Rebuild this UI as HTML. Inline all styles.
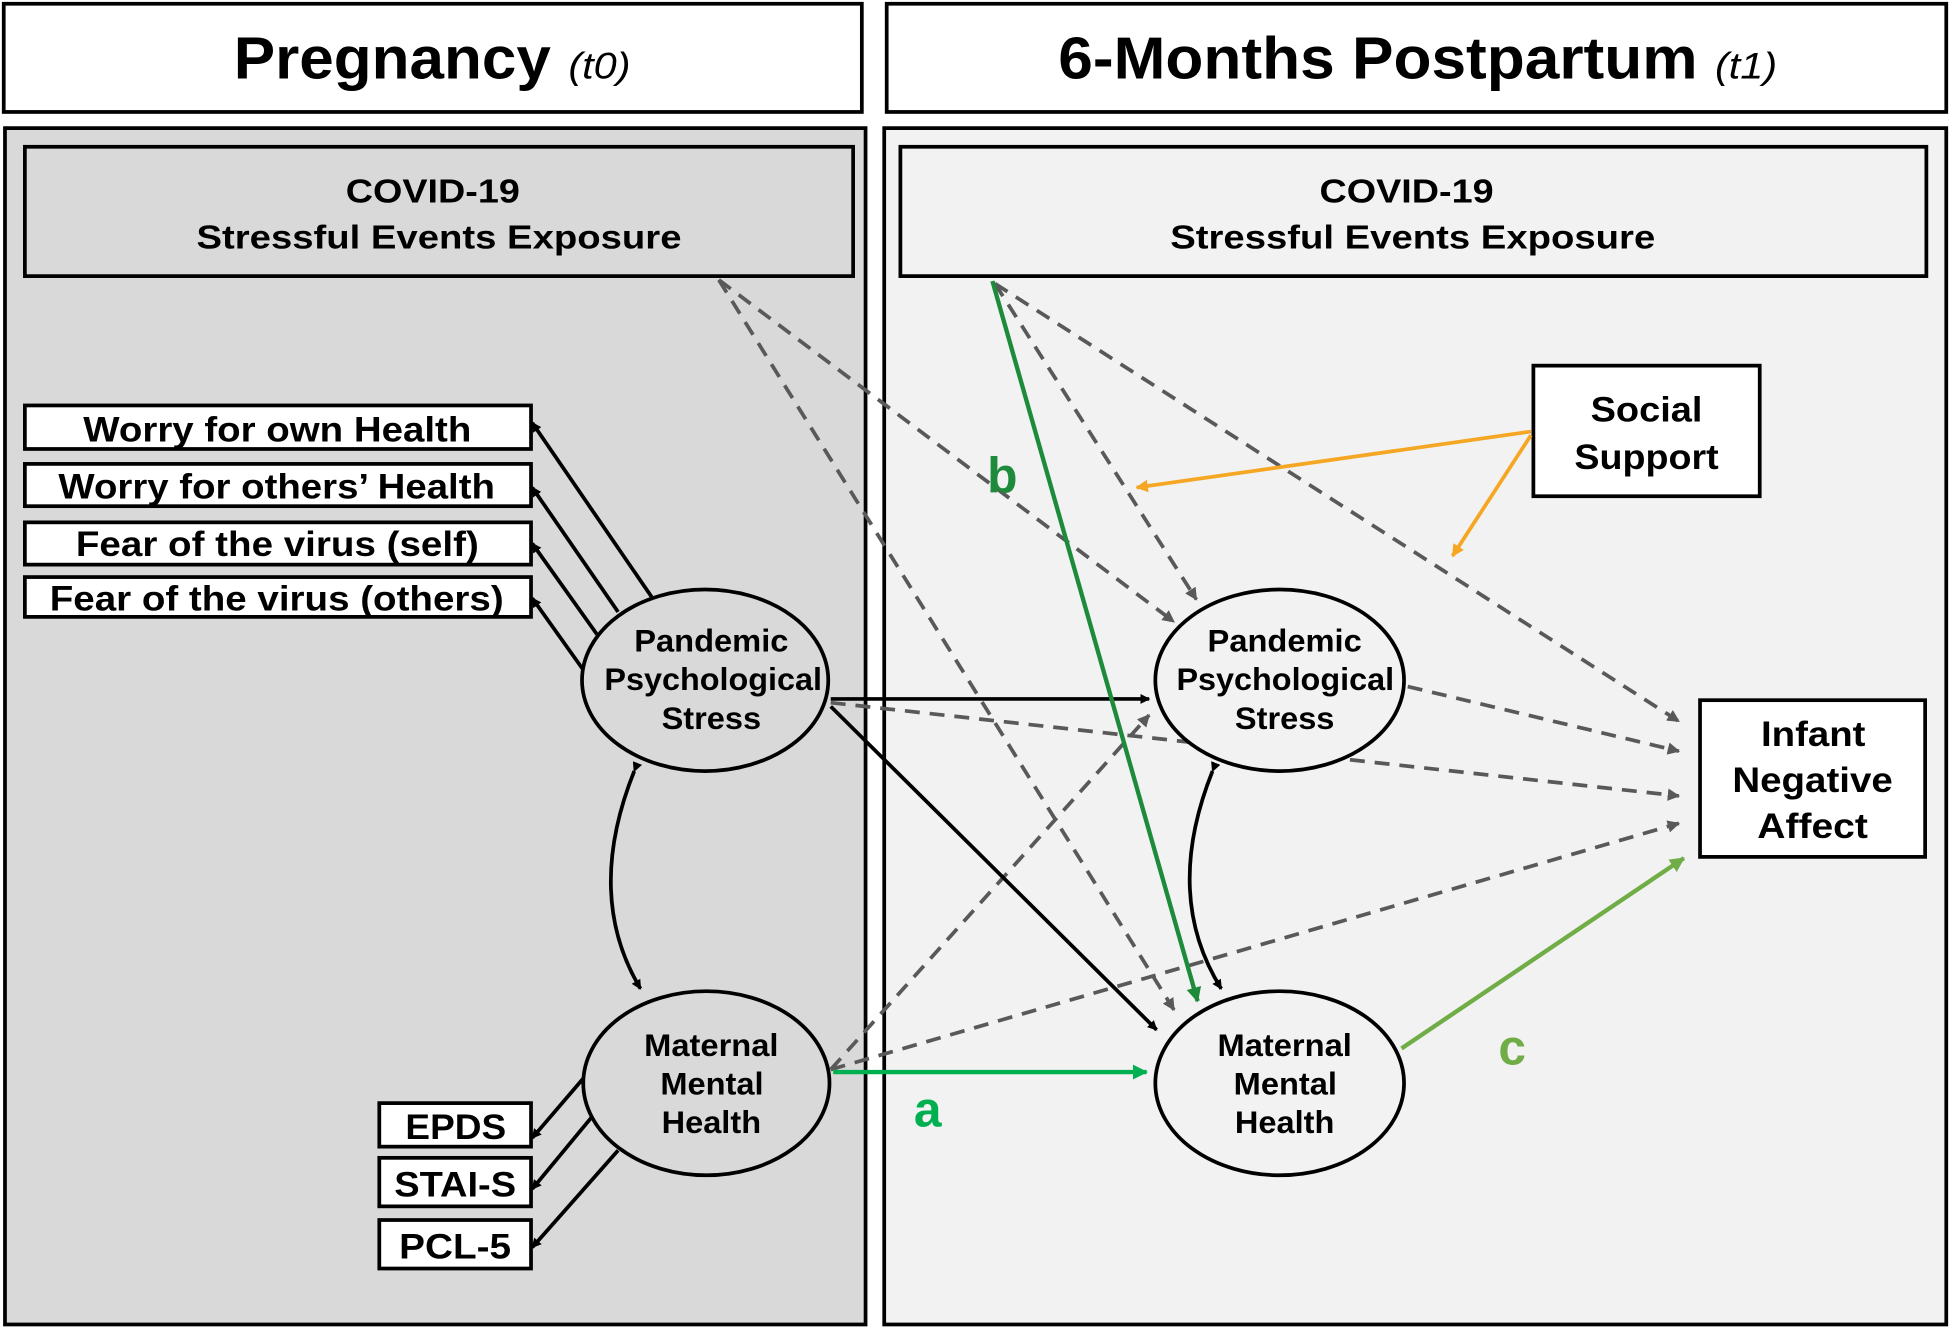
<!DOCTYPE html>
<html><head><meta charset="utf-8"><style>
html,body{margin:0;padding:0;background:#fff;}
svg{display:block;}
text{font-family:"Liberation Sans",Arial,sans-serif;font-weight:bold;fill:#000;}
text.it{font-weight:normal;font-style:italic;}
</style></head><body>
<svg width="1950" height="1327" viewBox="0 0 1568 1067" xmlns="http://www.w3.org/2000/svg">
<defs>
<marker id="ak" markerWidth="8" markerHeight="8" refX="7" refY="4" orient="auto" markerUnits="userSpaceOnUse"><path d="M0,0 L8,4 L0,8 z" fill="#000"/></marker>
<marker id="ag" markerWidth="10" markerHeight="10" refX="9" refY="5" orient="auto" markerUnits="userSpaceOnUse"><path d="M0,0 L10,5 L0,10 z" fill="#595959"/></marker>
<marker id="adg" markerWidth="12" markerHeight="12" refX="11" refY="6" orient="auto" markerUnits="userSpaceOnUse"><path d="M0,0 L12,6 L0,12 z" fill="#1e8a3c"/></marker>
<marker id="alg" markerWidth="12" markerHeight="12" refX="11" refY="6" orient="auto" markerUnits="userSpaceOnUse"><path d="M0,0 L12,6 L0,12 z" fill="#00b050"/></marker>
<marker id="aog" markerWidth="12" markerHeight="12" refX="11" refY="6" orient="auto" markerUnits="userSpaceOnUse"><path d="M0,0 L12,6 L0,12 z" fill="#70ad47"/></marker>
<marker id="ao" markerWidth="10" markerHeight="10" refX="9" refY="5" orient="auto" markerUnits="userSpaceOnUse"><path d="M0,0 L10,5 L0,10 z" fill="#f5a623"/></marker>
</defs>
<rect width="1568" height="1067" fill="#fff"/>
<rect x="3" y="3" width="690" height="87" fill="#fff" stroke="#000" stroke-width="3"/>
<rect x="713" y="3" width="852" height="87" fill="#fff" stroke="#000" stroke-width="3"/>
<text x="188" y="63" font-size="48" textLength="255" lengthAdjust="spacingAndGlyphs">Pregnancy</text>
<text x="457" y="63" font-size="30" class="it" textLength="50" lengthAdjust="spacingAndGlyphs">(t0)</text>
<text x="851" y="63" font-size="48" textLength="514" lengthAdjust="spacingAndGlyphs">6-Months Postpartum</text>
<text x="1379" y="63" font-size="30" class="it" textLength="50" lengthAdjust="spacingAndGlyphs">(t1)</text>
<rect x="4" y="103" width="692" height="962" fill="#d9d9d9" stroke="#000" stroke-width="3"/>
<rect x="711" y="103" width="854" height="962" fill="#f2f2f2" stroke="#000" stroke-width="3"/>
<rect x="20" y="118" width="666" height="104" fill="#d9d9d9" stroke="#000" stroke-width="3"/>
<rect x="724" y="118" width="825" height="104" fill="#f2f2f2" stroke="#000" stroke-width="3"/>
<text x="278" y="163" font-size="27" textLength="140" lengthAdjust="spacingAndGlyphs">COVID-19</text>
<text x="158" y="200" font-size="27" textLength="390" lengthAdjust="spacingAndGlyphs">Stressful Events Exposure</text>
<text x="1061" y="163" font-size="27" textLength="140" lengthAdjust="spacingAndGlyphs">COVID-19</text>
<text x="941" y="200" font-size="27" textLength="390" lengthAdjust="spacingAndGlyphs">Stressful Events Exposure</text>
<g stroke="#000" stroke-width="3" fill="#fff">
<rect x="20" y="326" width="407" height="35"/>
<rect x="20" y="373" width="407" height="34"/>
<rect x="20" y="420" width="407" height="34"/>
<rect x="20" y="464" width="407" height="32"/>
<rect x="305" y="887" width="122" height="35"/>
<rect x="305" y="931" width="122" height="39"/>
<rect x="305" y="981" width="122" height="39"/>
<rect x="1233" y="294" width="182" height="105"/>
<rect x="1367" y="563" width="181" height="126"/>
</g>
<g font-size="28" lengthAdjust="spacingAndGlyphs">
<text x="67" y="355" textLength="312" lengthAdjust="spacingAndGlyphs">Worry for own Health</text>
<text x="47" y="401" textLength="351" lengthAdjust="spacingAndGlyphs">Worry for others’ Health</text>
<text x="61" y="447" textLength="324" lengthAdjust="spacingAndGlyphs">Fear of the virus (self)</text>
<text x="40" y="491" textLength="365" lengthAdjust="spacingAndGlyphs">Fear of the virus (others)</text>
<text x="326" y="916" textLength="81" lengthAdjust="spacingAndGlyphs">EPDS</text>
<text x="317" y="962" textLength="98" lengthAdjust="spacingAndGlyphs">STAI-S</text>
<text x="321" y="1012" textLength="90" lengthAdjust="spacingAndGlyphs">PCL-5</text>
<text x="1279" y="339" textLength="90" lengthAdjust="spacingAndGlyphs">Social</text>
<text x="1266" y="377" textLength="116" lengthAdjust="spacingAndGlyphs">Support</text>
<text x="1416" y="600" textLength="84" lengthAdjust="spacingAndGlyphs">Infant</text>
<text x="1393" y="637" textLength="129" lengthAdjust="spacingAndGlyphs">Negative</text>
<text x="1413" y="674" textLength="89" lengthAdjust="spacingAndGlyphs">Affect</text>
</g>
<g stroke="#595959" stroke-width="3" stroke-dasharray="12,8" fill="none" marker-end="url(#ag)">
<line x1="578" y1="225" x2="944" y2="500"/>
<line x1="578" y1="225" x2="944" y2="812"/>
<line x1="800" y1="228" x2="962" y2="482"/>
<line x1="800" y1="228" x2="1350" y2="580"/>
<line x1="668" y1="565" x2="1350" y2="640"/>
<line x1="668" y1="860" x2="924" y2="575"/>
<line x1="668" y1="860" x2="1350" y2="662"/>
<line x1="1132" y1="552" x2="1350" y2="604"/>
</g>
<g stroke="#000" stroke-width="3" fill="none">
<line x1="524" y1="480" x2="428" y2="340" marker-end="url(#ak)"/>
<line x1="497" y1="492" x2="428" y2="392" marker-end="url(#ak)"/>
<line x1="480" y1="510" x2="428" y2="437" marker-end="url(#ak)"/>
<line x1="470" y1="540" x2="428" y2="481" marker-end="url(#ak)"/>
<line x1="470" y1="866" x2="428" y2="915" marker-end="url(#ak)"/>
<line x1="476" y1="898" x2="428" y2="956" marker-end="url(#ak)"/>
<line x1="497" y1="925" x2="428" y2="1003" marker-end="url(#ak)"/>
<line x1="668" y1="562" x2="924" y2="562" marker-end="url(#ak)"/>
<line x1="668" y1="568" x2="930" y2="828" marker-end="url(#ak)"/>
<path d="M510,620 Q470,720 515,795" marker-end="url(#ak)" marker-start="url(#ak)"/>
<path d="M975,620 Q935,720 982,795" marker-end="url(#ak)" marker-start="url(#ak)"/>
</g>
<g stroke="#000" stroke-width="3">
<ellipse cx="567" cy="547" rx="99" ry="73" fill="#d9d9d9"/>
<ellipse cx="568" cy="871" rx="99" ry="74" fill="#d9d9d9"/>
<ellipse cx="1029" cy="547" rx="100" ry="73" fill="#f2f2f2"/>
<ellipse cx="1029" cy="871" rx="100" ry="74" fill="#f2f2f2"/>
</g>
<g font-size="25">
<text x="510" y="524" textLength="124" lengthAdjust="spacingAndGlyphs">Pandemic</text>
<text x="486" y="555" textLength="175" lengthAdjust="spacingAndGlyphs">Psychological</text>
<text x="532" y="586" textLength="80" lengthAdjust="spacingAndGlyphs">Stress</text>
<text x="518" y="849" textLength="108" lengthAdjust="spacingAndGlyphs">Maternal</text>
<text x="531" y="880" textLength="83" lengthAdjust="spacingAndGlyphs">Mental</text>
<text x="532" y="911" textLength="80" lengthAdjust="spacingAndGlyphs">Health</text>
<text x="971" y="524" textLength="124" lengthAdjust="spacingAndGlyphs">Pandemic</text>
<text x="946" y="555" textLength="175" lengthAdjust="spacingAndGlyphs">Psychological</text>
<text x="993" y="586" textLength="80" lengthAdjust="spacingAndGlyphs">Stress</text>
<text x="979" y="849" textLength="108" lengthAdjust="spacingAndGlyphs">Maternal</text>
<text x="992" y="880" textLength="83" lengthAdjust="spacingAndGlyphs">Mental</text>
<text x="993" y="911" textLength="80" lengthAdjust="spacingAndGlyphs">Health</text>
</g>
<line x1="798" y1="226" x2="963" y2="805" stroke="#1e8a3c" stroke-width="3.5" marker-end="url(#adg)"/>
<line x1="670" y1="862" x2="922" y2="862" stroke="#00b050" stroke-width="3.5" marker-end="url(#alg)"/>
<line x1="1127" y1="843" x2="1354" y2="690" stroke="#70ad47" stroke-width="3.5" marker-end="url(#aog)"/>
<line x1="1231" y1="347" x2="914" y2="392" stroke="#f5a623" stroke-width="3" marker-end="url(#ao)"/>
<line x1="1231" y1="350" x2="1168" y2="447" stroke="#f5a623" stroke-width="3" marker-end="url(#ao)"/>
<text x="806" y="396" font-size="40" text-anchor="middle" style="fill:#1e8a3c">b</text>
<text x="746" y="906" font-size="40" text-anchor="middle" style="fill:#00b050">a</text>
<text x="1216" y="856" font-size="40" text-anchor="middle" style="fill:#70ad47">c</text>
</svg>
</body></html>
